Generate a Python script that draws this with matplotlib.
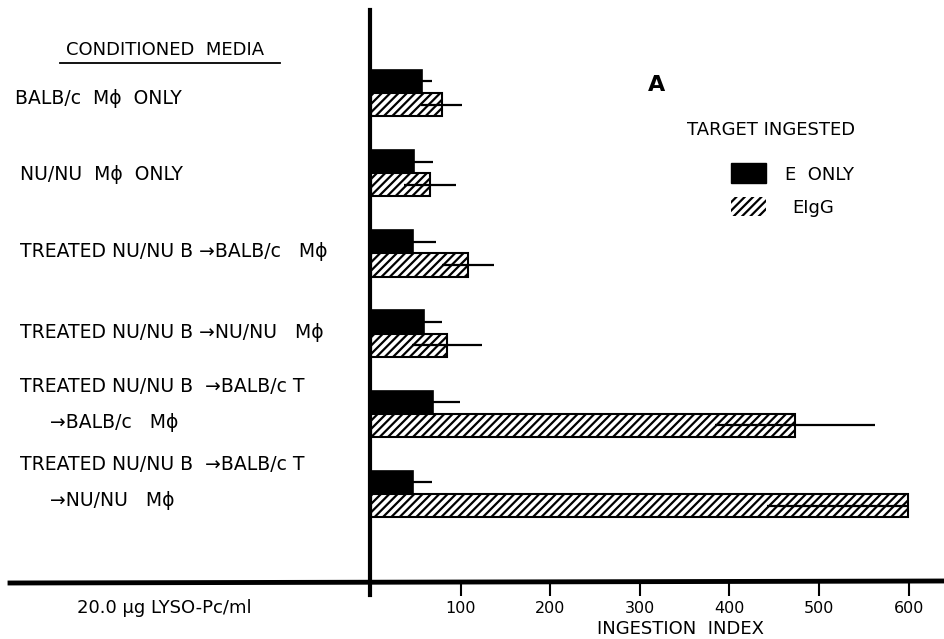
import matplotlib
matplotlib.use("Agg")
import matplotlib.pyplot as plt
from matplotlib.lines import Line2D
from matplotlib.patches import Rectangle

plt.rcParams['font.family'] = ['DejaVu Sans']
plt.rcParams['hatch.linewidth'] = 1.6

categories = [
    ["BALB/c  M\u03d5  ONLY"],
    ["NU/NU  M\u03d5  ONLY"],
    ["TREATED NU/NU B \u2192BALB/c   M\u03d5"],
    ["TREATED NU/NU B \u2192NU/NU   M\u03d5"],
    ["TREATED NU/NU B  \u2192BALB/c T", "\u2192BALB/c   M\u03d5"],
    ["TREATED NU/NU B  \u2192BALB/c T", "\u2192NU/NU   M\u03d5"],
]
e_only = [57, 48, 47, 59, 69, 47]
e_only_err = [11, 21, 26, 20, 30, 21]
eigg = [79, 66, 108, 85, 473, 599]
eigg_err_low = [23, 29, 29, 39, 89, 157]
eigg_err_high = [23, 29, 29, 39, 89, 0]
xticks = [100, 200, 300, 400, 500, 600]

W, H = 945, 639
fig = plt.figure(figsize=(W / 100, H / 100), dpi=100)

def fx(px):
    return px / W

def fy(py):
    return 1 - py / H

FS = 13.5

ax_left, ax_right, ax_top, ax_bottom = 371, 945, 10, 583
ax = fig.add_axes([fx(ax_left), fy(ax_bottom), fx(ax_right - ax_left), (ax_bottom - ax_top) / H])
ax.set_xlim(0, (ax_right - ax_left) / 0.896)
unit = 80.2
ax.set_ylim((ax_bottom - 93) / unit, (ax_top - 93) / unit)
for s in ax.spines.values():
    s.set_visible(False)

bh = 0.29
ys = list(range(len(e_only)))
yb = [y - bh / 2 for y in ys]
yh = [y + bh / 2 for y in ys]
ax.barh(yb, e_only, height=bh, color='black', edgecolor='black', linewidth=1.2, zorder=2)
ax.barh(yh, eigg, height=bh, color='white', edgecolor='black', hatch='////', linewidth=1.5, zorder=2)
ax.errorbar(e_only, yb, xerr=e_only_err, fmt='none', ecolor='black', elinewidth=1.6, capsize=0, zorder=3)
ax.errorbar(eigg, yh, xerr=[eigg_err_low, eigg_err_high], fmt='none', ecolor='black', elinewidth=1.6, capsize=0, zorder=3)

ax.set_yticks([])
ax.set_xticks(xticks)
ax.set_xticklabels([str(t) for t in xticks], fontsize=11.5)
ax.tick_params(axis='x', direction='out', length=9, width=1.5, pad=4)

# axis lines
fig.add_artist(Line2D([fx(10), fx(945)], [fy(583), fy(581)], color='black', linewidth=3.5))
fig.add_artist(Line2D([fx(370), fx(370)], [fy(10), fy(595)], color='black', linewidth=3.0))

# left labels
fig.text(fx(66), fy(50), "CONDITIONED  MEDIA", fontsize=FS - 0.5, va='center', ha='left')
fig.add_artist(Line2D([fx(60), fx(280)], [fy(63), fy(63)], color='black', linewidth=1.3))
label_pos = [(15, [98]), (20, [175]), (20, [252]), (20, [333]), (20, [387, 423]), (20, [465, 500])]
for lab, (x0, yl) in zip(categories, label_pos):
    for i, (t, yy) in enumerate(zip(lab, yl)):
        fig.text(fx(x0 if i == 0 else 50), fy(yy), t, fontsize=FS, va='center', ha='left')

fig.text(fx(77), fy(608), "20.0 \u03bcg LYSO-Pc/ml", fontsize=FS - 0.5, va='center', ha='left')
fig.text(fx(681), fy(629), "INGESTION  INDEX", fontsize=FS - 0.5, va='center', ha='center')

# panel letter and legend
fig.text(fx(648), fy(85), "A", fontsize=16, fontweight='bold', va='center', ha='left')
fig.text(fx(687), fy(130), "TARGET INGESTED", fontsize=FS - 0.5, va='center', ha='left')
fig.add_artist(Rectangle((fx(731), fy(183)), fx(35), 20 / H, facecolor='black', edgecolor='black',
                         transform=fig.transFigure))
fig.add_artist(Rectangle((fx(731), fy(216)), fx(35), 19 / H, facecolor='white', edgecolor='black',
                         linewidth=0, hatch='////', transform=fig.transFigure))
fig.text(fx(785), fy(175), "E  ONLY", fontsize=FS - 0.5, va='center', ha='left')
fig.text(fx(792), fy(208), "EIgG", fontsize=FS - 0.5, va='center', ha='left')

fig.savefig("out.png", dpi=100)
